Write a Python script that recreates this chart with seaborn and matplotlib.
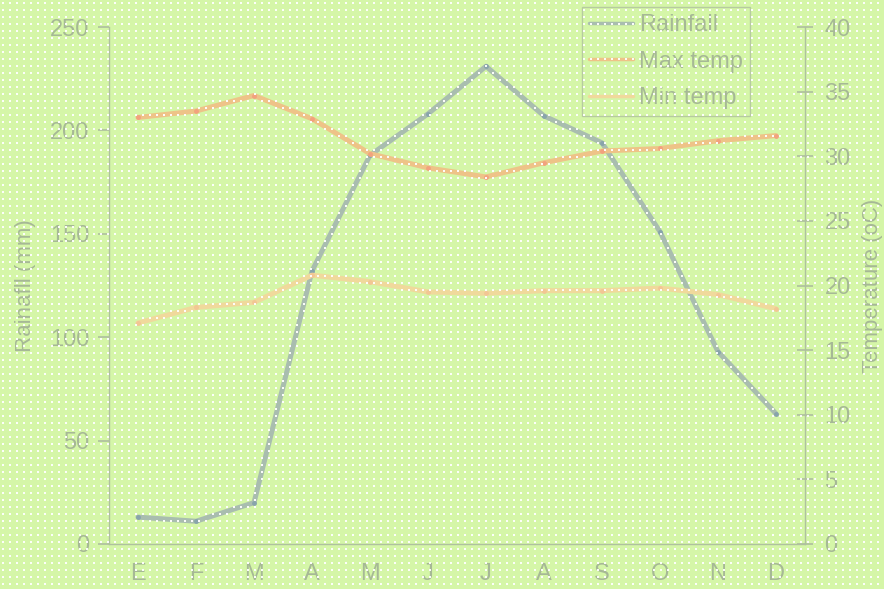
import numpy as np
import pandas as pd
import matplotlib
matplotlib.use("Agg")
import matplotlib.pyplot as plt
import seaborn as sns

months = ["E", "F", "M", "A", "M", "J", "J", "A", "S", "O", "N", "D"]
rainfall = [13, 11, 20, 132, 188, 208, 231, 207, 194, 151, 93, 63]
max_temp = [33.0, 33.5, 34.7, 32.9, 30.2, 29.1, 28.4, 29.5, 30.4, 30.6, 31.2, 31.6]
min_temp = [17.1, 18.3, 18.7, 20.8, 20.3, 19.5, 19.4, 19.6, 19.6, 19.8, 19.3, 18.2]

bg = "#d5f6a8"
txt = "#a6b896"
axc = "#afc09f"

sns.set_theme(style="white")
plt.rcParams["font.family"] = ["Liberation Sans", "DejaVu Sans"]

df = pd.DataFrame({"pos": range(len(months)), "rain": rainfall,
                   "tmax": max_temp, "tmin": min_temp})

fig = plt.figure(figsize=(8.84, 5.89), dpi=100, facecolor=bg)
ax = fig.add_axes([109 / 884, 45 / 589, 696 / 884, 517 / 589])
ax.set_facecolor("none")
ax2 = ax.twinx()

sns.lineplot(data=df, x="pos", y="rain", ax=ax, color="#a9bdaf", lw=3.6,
             marker="o", markersize=3.5, markerfacecolor="#88a4ab",
             markeredgewidth=0, label="Rainfall", legend=False)
sns.lineplot(data=df, x="pos", y="tmax", ax=ax2, color="#eec388", lw=3.6,
             marker="o", markersize=3.5, markerfacecolor="#f2a27e",
             markeredgewidth=0, label="Max temp", legend=False)
sns.lineplot(data=df, x="pos", y="tmin", ax=ax2, color="#f0d99c", lw=3.6,
             marker="o", markersize=3.5, markerfacecolor="#f2c694",
             markeredgewidth=0, label="Min temp", legend=False)

ax.set_xlim(-0.5, len(months) - 0.5)
ax.set_ylim(0, 250)
ax2.set_ylim(0, 40)
ax.set_yticks(range(0, 251, 50))
ax2.set_yticks(range(0, 41, 5))
ax.set_xticks(range(len(months)))
ax.set_xticklabels(months)
ax.set_xticks(np.arange(-0.5, len(months), 1), minor=True)

ax.set_xlabel("")
ax.set_ylabel("Rainafll (mm)", color=txt, fontsize=16, labelpad=10)
ax2.set_ylabel("Temperature (oC)", color=txt, fontsize=16, labelpad=8)

for a in (ax, ax2):
    for s in a.spines.values():
        s.set_visible(False)
    a.grid(False)
ax.spines["left"].set_visible(True)
ax.spines["bottom"].set_visible(True)
ax2.spines["right"].set_visible(True)
for s in (ax.spines["left"], ax.spines["bottom"], ax2.spines["right"]):
    s.set_color(axc)
    s.set_linewidth(1)

ax.tick_params(axis="x", which="major", length=0, pad=14, labelsize=17, labelcolor=txt)
ax.tick_params(axis="x", which="minor", length=6, color=axc, direction="out")
ax.tick_params(axis="y", length=8, color=axc, labelsize=17, labelcolor=txt, pad=6)
ax2.tick_params(axis="y", length=12, color=axc, direction="inout",
                labelsize=17, labelcolor=txt, pad=8)

handles = ax.get_lines()[:1] + ax2.get_lines()[:2]
leg = ax2.legend(handles, ["Rainfall", "Max temp", "Min temp"],
                 loc="upper right", bbox_to_anchor=(750 / 884, 582 / 589),
                 bbox_transform=fig.transFigure, frameon=True, fancybox=False,
                 fontsize=17, handlelength=1.85, handletextpad=0.25,
                 labelspacing=0.62, borderpad=0.3, borderaxespad=0)
leg.get_frame().set_edgecolor(axc)
leg.get_frame().set_facecolor("none")
leg.get_frame().set_linewidth(1)
for t in leg.get_texts():
    t.set_color(txt)
for h in leg.get_lines():
    h.set_marker("")
    h.set_linewidth(2.5)

# white dotted texture laid over everything
W, H = 884, 589
pat = np.zeros((H, W, 4))
for y0 in range(2, H, 7):
    for x0 in range(2, W, 7):
        pat[y0:y0 + 2, x0:x0 + 2] = [1, 1, 1, 0.95]
ov = fig.add_axes([0, 0, 1, 1], zorder=10)
ov.imshow(pat, interpolation="nearest", aspect="auto")
ov.axis("off")

fig.savefig("out.png", dpi=100, facecolor=bg)
